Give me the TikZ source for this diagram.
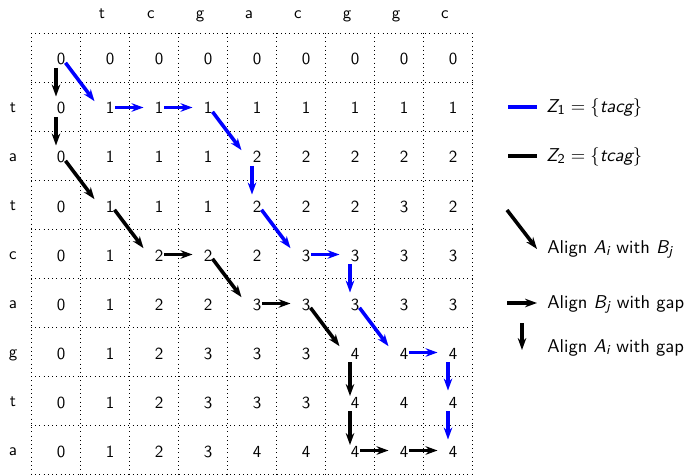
\documentclass[tikz,border=0pt]{standalone}
\usepackage{amsmath}
\usetikzlibrary{arrows.meta}
% sans-serif italic for the sequence symbols
\newcommand{\sv}[1]{\textsf{\itshape #1}}
% one traceback step: diagonal, horizontal, vertical
\newcommand{\dmove}[3]{\draw[#1] ([shift={(10,5.3)}]#2) -- ([shift={(-10,-5.3)}]#3);}
\newcommand{\hmove}[3]{\draw[#1] ([shift={(10.5,1)}]#2) -- ([shift={(-10,1)}]#3);}
\newcommand{\vmove}[3]{\draw[#1] ([shift={(0.5,10.5)}]#2) -- ([shift={(0.5,-10)}]#3);}

\begin{document}
\begin{tikzpicture}[x=0.59pt,y=-0.59pt, font=\sffamily,
  gridline/.style={dotted, line width=0.5pt},
  val/.style={inner sep=0pt, anchor=base},
  lbl/.style={inner sep=0pt, anchor=base},
  legtext/.style={inner sep=0pt, anchor=base west, font=\sffamily\fontsize{10.95}{13}\selectfont},
  mv/.style={line width=2.1pt, -{Stealth[length=7pt,width=5pt,inset=2.2pt]}},
  bluemv/.style={mv, blue},
  blackmv/.style={mv, black},
  keyline/.style={line width=2.8pt},
]
\useasboundingbox (0,0) rectangle (689,475);

% dotted table grid
\foreach \k in {0,...,9} {
  \draw[gridline] (31+49*\k,33) -- (31+49*\k,475);
  \draw[gridline] (31,33+49*\k) -- (472,33+49*\k);
}

% column and row headers
\foreach \c [count=\j] in {t,c,g,a,c,g,g,c}
  \node[lbl] (col\j) at (53+49*\j,19) {\c};
\foreach \r [count=\i] in {t,a,t,c,a,g,t,a}
  \node[lbl] (row\i) at (13,63.5+49*\i) {\r};

% cell centres and table values
\foreach \row [count=\ii from 0] in {
  {0,0,0,0,0,0,0,0,0},
  {0,1,1,1,1,1,1,1,1},
  {0,1,1,1,2,2,2,2,2},
  {0,1,1,1,2,2,2,3,2},
  {0,1,2,2,2,3,3,3,3},
  {0,1,2,2,3,3,3,3,3},
  {0,1,2,3,3,3,4,4,4},
  {0,1,2,3,3,3,4,4,4},
  {0,1,2,3,4,4,4,4,4}} {
  \foreach \v [count=\jj from 0] in \row {
    \coordinate (c\ii\jj) at (55.5+49*\jj,57.5+49*\ii);
    \node[val] (n\ii\jj) at ([shift={(5.5,7.5)}]c\ii\jj) {\v};
  }
}

% traceback for Z1
\dmove{bluemv}{c00}{c11}
\hmove{bluemv}{c11}{c12}
\hmove{bluemv}{c12}{c13}
\dmove{bluemv}{c13}{c24}
\vmove{bluemv}{c24}{c34}
\dmove{bluemv}{c34}{c45}
\hmove{bluemv}{c45}{c46}
\vmove{bluemv}{c46}{c56}
\dmove{bluemv}{c56}{c67}
\hmove{bluemv}{c67}{c68}
\vmove{bluemv}{c68}{c78}
\vmove{bluemv}{c78}{c88}

% traceback for Z2
\vmove{blackmv}{c00}{c10}
\vmove{blackmv}{c10}{c20}
\dmove{blackmv}{c20}{c31}
\dmove{blackmv}{c31}{c42}
\hmove{blackmv}{c42}{c43}
\dmove{blackmv}{c43}{c54}
\hmove{blackmv}{c54}{c55}
\dmove{blackmv}{c55}{c66}
\draw[blackmv] ([shift={(0.5,10.5)}]c66) -- ([shift={(0.5,-4.5)}]c76);
\draw[blackmv] ([shift={(0.5,10.5)}]c76) -- ([shift={(0.5,-4.5)}]c86);
\hmove{blackmv}{c86}{c87}
\hmove{blackmv}{c87}{c88}

% legend
\coordinate (k1a) at (508,107); \coordinate (k1b) at (537,107);
\draw[keyline, blue] (k1a) -- (k1b);
\node[legtext] (k1) at (546,112) {$\sv{Z}_{\textsf{1}} = \{\sv{tacg}\}$};
\coordinate (k2a) at (508,156); \coordinate (k2b) at (537,156);
\draw[keyline] (k2a) -- (k2b);
\node[legtext] (k2) at (546,161) {$\sv{Z}_{\textsf{2}} = \{\sv{tcag}\}$};

\coordinate (k3a) at (507,210); \coordinate (k3b) at (537,249);
\draw[blackmv] (k3a) -- (k3b);
\node[legtext] (k3) at (547,253) {Align $\sv{A}_{\sv{i}}$ with $\sv{B}_{\sv{j}}$};
\coordinate (k4a) at (507,303); \coordinate (k4b) at (537,303);
\draw[blackmv] (k4a) -- (k4b);
\node[legtext] (k4) at (547,308) {Align $\sv{B}_{\sv{j}}$ with gap};
\coordinate (k5a) at (522,323); \coordinate (k5b) at (522,350);
\draw[blackmv] (k5a) -- (k5b);
\node[legtext] (k5) at (547,352) {Align $\sv{A}_{\sv{i}}$ with gap};
\end{tikzpicture}
\end{document}
